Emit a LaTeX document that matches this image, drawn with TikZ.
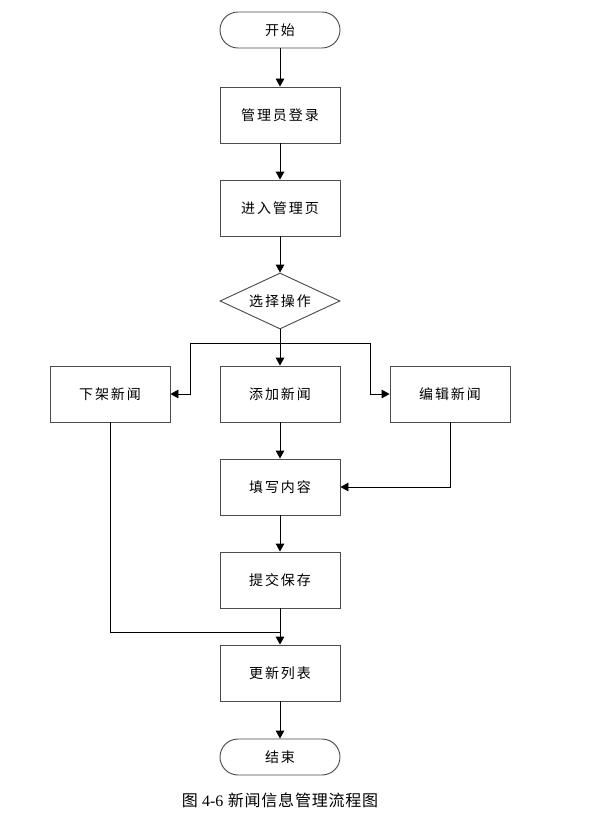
\documentclass[tikz,border=0pt]{standalone}
\usepackage{fontspec}
\setmainfont{Noto Sans CJK SC}
\newfontfamily\numfont{Liberation Serif}
\usetikzlibrary{arrows.meta,shapes.geometric}
\tikzset{
	proc/.style={draw=black!70, line width=0.7pt, minimum width=90pt, minimum height=42pt, inner sep=0pt, font=\fontsize{10.5}{12}\selectfont\addfontfeature{LetterSpace=14}},
	term/.style={proc, rounded corners=13.5pt, minimum height=27pt},
	decide/.style={proc, diamond, aspect=2.14},
	flow/.style={line width=0.7pt, -{Triangle[length=6pt,width=6.5pt]}},
	wire/.style={line width=0.7pt},
}

\begin{document}
\begin{tikzpicture}[x=0.75pt,y=-0.75pt]
			%%%%% START %%%%%
			\useasboundingbox (0,0) rectangle (605,813);
			
			\node[term] (start) at (280,30) {开始};
			\node[proc] (login) at (280,115) {管理员登录};
			\node[proc] (enter) at (280,208) {进入管理页};
			\node[decide] (choose) at (280,301) {选择操作};
			
			\node[proc] (off) at (110,394) {下架新闻};
			\node[proc] (add) at (280,394) {添加新闻};
			\node[proc] (edit) at (450,394) {编辑新闻};
			
			\node[proc] (fill) at (280,487) {填写内容};
			\node[proc] (save) at (280,580) {提交保存};
			\node[proc] (update) at (280,673) {更新列表};
			\node[term] (stop) at (280,757) {结束};
			
			\node[font=\fontsize{12}{14}\selectfont\addfontfeature{LetterSpace=5}] (caption) at (280,800) {图 {\numfont 4-6} 新闻信息管理流程图};
			
			\coordinate (split) at (280,343);
			\coordinate (sl) at (190,343);
			\coordinate (sr) at (370,343);
			\coordinate (join) at (280,632);
			
			\draw[flow] (start) -- (login);
			\draw[flow] (login) -- (enter);
			\draw[flow] (enter) -- (choose);
			\draw[wire] (choose) -- (split);
			\draw[flow] (split) -- (add);
			\draw[flow] (split) -- (sl) |- (off);
			\draw[flow] (split) -- (sr) |- (edit);
			
			\draw[flow] (add) -- (fill);
			\draw[flow] (edit) |- (fill);
			\draw[flow] (fill) -- (save);
			\draw[flow] (save) -- (update);
			\draw[wire] (off) |- (join);
			\draw[flow] (update) -- (stop);
			
			%%%%% END %%%%%
		\end{tikzpicture}
\end{document}
